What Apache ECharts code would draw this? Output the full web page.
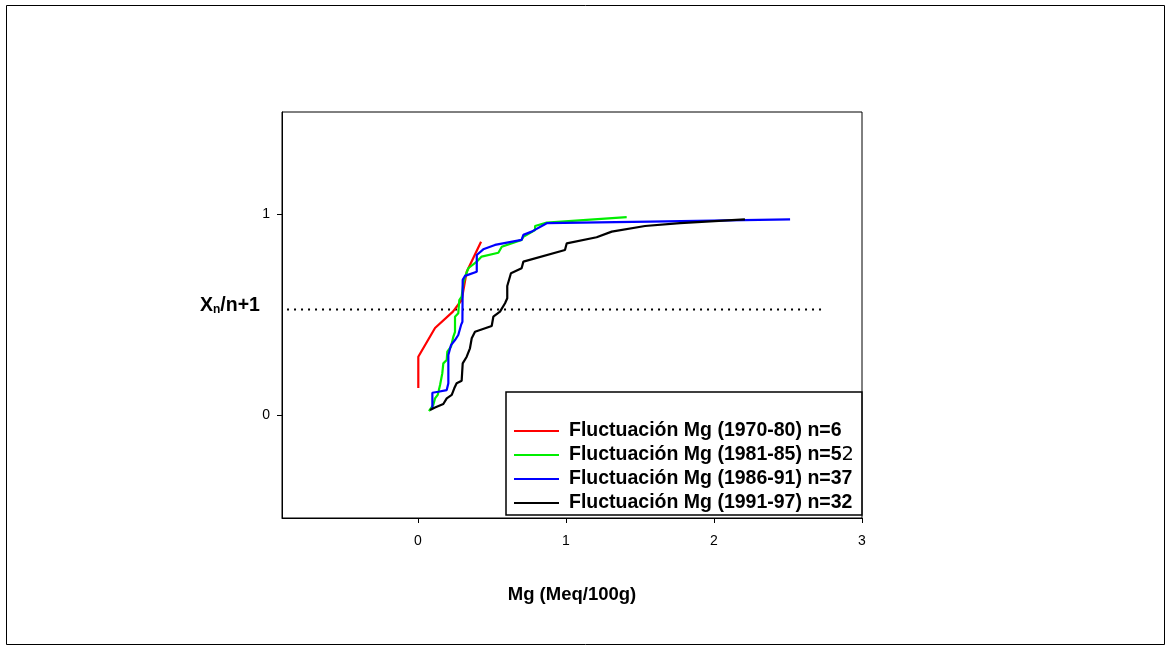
<!DOCTYPE html>
<html>
<head>
<meta charset="utf-8">
<script src="https://cdn.jsdelivr.net/npm/echarts@6/dist/echarts.min.js"></script>
<style>html,body{margin:0;padding:0;background:#fff}#c{width:1171px;height:650px}</style>
</head>
<body>
<div id="c"></div>
<script>
// ---- data ----
const seriesNames = [
  'Fluctuación Mg (1970-80) n=6',
  'Fluctuación Mg (1981-85) n=52',
  'Fluctuación Mg (1986-91) n=37',
  'Fluctuación Mg (1991-97) n=32'
];
const redX = [0.002, 0.002, 0.115, 0.236, 0.295, 0.329, 0.426];
const redY = [0.135, 0.290, 0.433, 0.514, 0.572, 0.713, 0.862];

const greenX = [0.074, 0.103, 0.115, 0.133, 0.149, 0.164, 0.171, 0.194, 0.198, 0.223, 0.239, 0.250, 0.250, 0.272, 0.279, 0.295, 0.306, 0.318, 0.340, 0.397, 0.430, 0.543, 0.566, 0.700, 0.712, 0.791, 0.791, 0.870, 1.410];
const greenY = [0.020, 0.050, 0.083, 0.100, 0.149, 0.207, 0.257, 0.274, 0.315, 0.340, 0.390, 0.414, 0.489, 0.506, 0.572, 0.589, 0.655, 0.688, 0.730, 0.763, 0.788, 0.807, 0.837, 0.871, 0.887, 0.920, 0.940, 0.957, 0.984];

const blueX = [0.097, 0.097, 0.137, 0.194, 0.205, 0.205, 0.223, 0.250, 0.272, 0.291, 0.300, 0.302, 0.318, 0.397, 0.397, 0.441, 0.520, 0.700, 0.712, 0.768, 0.870, 1.568, 2.514];
const blueY = [0.033, 0.111, 0.116, 0.124, 0.158, 0.299, 0.348, 0.373, 0.398, 0.448, 0.464, 0.672, 0.692, 0.713, 0.796, 0.824, 0.846, 0.871, 0.896, 0.912, 0.954, 0.962, 0.973];

const blackX = [0.081, 0.115, 0.171, 0.194, 0.228, 0.245, 0.261, 0.295, 0.302, 0.329, 0.351, 0.363, 0.385, 0.498, 0.509, 0.554, 0.588, 0.603, 0.603, 0.628, 0.700, 0.712, 0.993, 1.005, 1.207, 1.309, 1.534, 1.770, 2.209];
const blackY = [0.025, 0.038, 0.055, 0.083, 0.100, 0.133, 0.158, 0.171, 0.257, 0.290, 0.332, 0.382, 0.414, 0.443, 0.489, 0.514, 0.556, 0.581, 0.642, 0.705, 0.730, 0.763, 0.821, 0.854, 0.884, 0.912, 0.940, 0.954, 0.973];

const refLineX = [-0.885, 2.736];
const refLineY = [0.525, 0.525];

const xTicks = [0, 1, 2, 3];
const yTicks = [0, 1];
const xAxisTitle = 'Mg (Meq/100g)';

// ---- chart ----
const zip = (xs, ys) => xs.map((x, i) => [x, ys[i]]);
const FONT = '"Liberation Sans", Arial, sans-serif';
const colors = ['#ff0000', '#00ee00', '#0000ff', '#000000'];
const dataSets = [zip(redX, redY), zip(greenX, greenY), zip(blueX, blueY), zip(blackX, blackY)];

const chart = echarts.init(document.getElementById('c'), null, {renderer: 'canvas'});
const lineSeries = dataSets.map((d, i) => ({
  name: seriesNames[i],
  type: 'line',
  data: d,
  symbol: 'none',
  smooth: false,
  color: colors[i],
  lineStyle: {color: colors[i], width: 2.2},
  z: 3 + i,
  animation: false
}));

chart.setOption({
  animation: false,
  backgroundColor: '#fff',
  grid: {left: 282, top: 112, right: 309, bottom: 132, show: true, borderColor: '#000', borderWidth: 1, backgroundColor: 'transparent'},
  xAxis: {
    type: 'value', min: -0.919, max: 3,
    splitLine: {show: false},
    axisLine: {show: true, onZero: false, lineStyle: {color: '#000', width: 1}},
    axisTick: {show: true, customValues: xTicks, length: 5, lineStyle: {color: '#000', width: 1}},
    axisLabel: {customValues: xTicks, color: '#000', fontSize: 14, fontFamily: FONT, margin: 16},
    name: xAxisTitle, nameLocation: 'middle', nameGap: 67,
    nameTextStyle: {color: '#000', fontSize: 18.5, fontWeight: 'bold', fontFamily: FONT}
  },
  yAxis: {
    type: 'value', min: -0.512, max: 1.507,
    splitLine: {show: false},
    axisLine: {show: true, onZero: false, lineStyle: {color: '#000', width: 1}},
    axisTick: {show: true, customValues: yTicks, length: 5, lineStyle: {color: '#000', width: 1}},
    axisLabel: {customValues: yTicks, color: '#000', fontSize: 14, fontFamily: FONT, margin: 12}
  },
  legend: {
    data: seriesNames,
    orient: 'vertical',
    left: 506, top: 392,
    padding: [29, 8, 2, 8],
    itemGap: 4,
    itemWidth: 45, itemHeight: 2,
    icon: 'rect',
    borderColor: '#000', borderWidth: 1.5,
    backgroundColor: '#fff',
    selectedMode: false,
    formatter: function (name) {
      if (/n=52$/.test(name)) return '{b|' + name.slice(0, -1) + '}{r|2}';
      return '{b|' + name + '}';
    },
    textStyle: {
      color: '#000', lineHeight: 20, padding: [0, 0, 0, 5],
      rich: {
        b: {fontSize: 19.5, fontWeight: 'bold', fontFamily: FONT, color: '#000', lineHeight: 20},
        r: {fontSize: 19.5, fontWeight: 'normal', fontFamily: '"DejaVu Sans", sans-serif', color: '#000', lineHeight: 20}
      }
    }
  },
  graphic: [
    {type: 'rect', shape: {x: 6.5, y: 5.5, width: 1158, height: 639}, style: {fill: 'none', stroke: '#000', lineWidth: 1}, silent: true, z: 0},
    {type: 'text', left: 200, top: 296,
     style: {
       text: '{a|X}{s|n}{a|/n+1}',
       rich: {
         a: {fontSize: 19.5, fontWeight: 'bold', fontFamily: FONT, fill: '#000'},
         s: {fontSize: 12, fontWeight: 'bold', fontFamily: FONT, fill: '#000', padding: [7, 0, 0, 0]}
       }
     }, z: 10}
  ],
  series: [
    ...lineSeries,
    {
      name: 'ref', type: 'line', data: zip(refLineX, refLineY), symbol: 'none',
      lineStyle: {color: '#000', width: 2, type: [2, 5]}, z: 2, animation: false
    }
  ]
});
</script>
</body>
</html>
